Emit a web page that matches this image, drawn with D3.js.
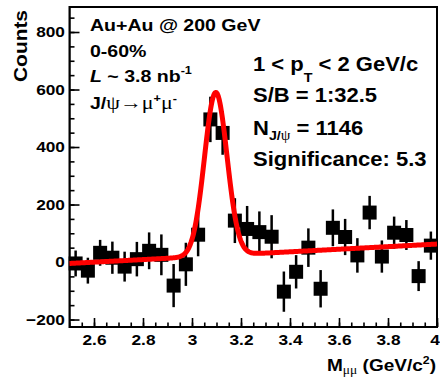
<!DOCTYPE html>
<html>
<head>
<meta charset="utf-8">
<script src="https://cdn.jsdelivr.net/npm/d3@7"></script>
<style>
body { margin: 0; background: #fff; }
text { font-family: "Liberation Sans", Arial, Helvetica, sans-serif; font-weight: bold; fill: #000; }
.sym { font-family: "Liberation Serif", "DejaVu Serif", serif; font-weight: normal; }
</style>
</head>
<body>
<script>
"use strict";

var width = 440,
    height = 377;

// dimuon invariant mass bins (centre, GeV/c^2), 0.05 wide
let massBins = [2.525, 2.575, 2.625, 2.675, 2.725, 2.775, 2.825, 2.875, 2.925, 2.975,
                3.025, 3.075, 3.125, 3.175, 3.225, 3.275, 3.325, 3.375, 3.425, 3.475,
                3.525, 3.575, 3.625, 3.675, 3.725, 3.775, 3.825, 3.875, 3.925, 3.975];
let counts = [-5, -30, 32, 15, -16, 10, 39, 25, -82, -8,
              95, 496, 449, 144, 115, 104, 88, -103, -34, 50,
              -93, 119, 87, 23, 172, 19, 102, 94, -49, 57];
let errors = [45, 45, 45, 56, 52, 60, 64, 71, 75, 75,
              75, 79, 76, 78, 80, 72, 75, 70, 58, 67,
              65, 64, 63, 60, 58, 56, 56, 52, 52, 49];

let xTicks = [2.6, 2.8, 3, 3.2, 3.4, 3.6, 3.8, 4];
let xTickLabels = ["2.6", "2.8", "3", "3.2", "3.4", "3.6", "3.8", "4"];
let yTicks = [-200, 0, 200, 400, 600, 800];

// fit = linear background + gaussian peak
let fitBackground = [-5, 45];          // value at 2.5, slope per GeV
let fitPeak = [568, 3.097, 0.046];     // amplitude, mean, sigma

let svg = "";
let x = "";
let y = "";

window.onload = function () {
    svg = d3.select("body")
        .append("svg")
        .attr("width", width)
        .attr("height", height);

    svg.append("rect").attr("width", width).attr("height", height).attr("fill", "#fff");

    x = d3.scaleLinear().domain([2.5, 4]).range([69.5, 437]);
    y = d3.scaleLinear().domain([-226, 887]).range([327, 7]);

    makeAxes();
    makePoints();
    makeFit();
    makeLabels();
}

function makeAxes() {
    // minor ticks
    svg.append("g")
        .attr("transform", "translate(0,327)")
        .call(d3.axisBottom(x).tickValues(d3.range(51, 81).map(k => k / 20)).tickSize(-4.5).tickFormat(""));
    svg.append("g")
        .attr("transform", "translate(69.5,0)")
        .call(d3.axisLeft(y).tickValues(d3.range(-4, 18).map(k => k * 50)).tickSize(-5).tickFormat(""));

    // major ticks + labels
    let xa = svg.append("g")
        .attr("transform", "translate(0,327)")
        .call(d3.axisBottom(x).tickValues(xTicks).tickSize(-9).tickPadding(7.5)
            .tickFormat((d, i) => xTickLabels[i]));
    let ya = svg.append("g")
        .attr("transform", "translate(69.5,0)")
        .call(d3.axisLeft(y).tickValues(yTicks).tickSize(-10).tickPadding(4));

    [xa, ya].forEach(function (a) {
        a.selectAll(".domain").remove();
        a.selectAll("text")
            .attr("font-size", 15)
            .attr("font-family", null)
            .attr("transform", "scale(1.15,1)");
    });
    // last x label sits on the right border, keep it inside the page
    xa.selectAll("text").filter(d => d === 4).attr("text-anchor", "end").attr("x", 2);
    svg.selectAll(".tick line").attr("stroke", "#000").attr("stroke-width", 1.6);

    svg.append("rect")
        .attr("x", x(2.5)).attr("y", y(887))
        .attr("width", x(4) - x(2.5)).attr("height", y(-226) - y(887))
        .attr("fill", "none").attr("stroke", "#000").attr("stroke-width", 2);
}

function makePoints() {
    let pts = svg.append("g").attr("id", "points");
    pts.selectAll("line")
        .data(massBins)
        .enter()
        .append("line")
        .attr("x1", d => x(d)).attr("x2", d => x(d))
        .attr("y1", (d, i) => y(counts[i] + errors[i]))
        .attr("y2", (d, i) => y(counts[i] - errors[i]))
        .attr("stroke", "#000").attr("stroke-width", 2.5);
    pts.selectAll("rect")
        .data(massBins)
        .enter()
        .append("rect")
        .attr("x", d => x(d) - 7).attr("y", (d, i) => y(counts[i]) - 7)
        .attr("width", 14).attr("height", 14)
        .attr("fill", "#000");
}

function fitValue(m) {
    let g = (m - fitPeak[1]) / fitPeak[2];
    return fitBackground[0] + fitBackground[1] * (m - 2.5) + fitPeak[0] * Math.exp(-0.5 * g * g);
}

function makeFit() {
    let line = d3.line().x(d => x(d)).y(d => y(fitValue(d)));
    svg.append("path")
        .datum(d3.range(0, 751).map(k => 2.5 + k * 0.002))
        .attr("d", line)
        .attr("fill", "none")
        .attr("stroke", "#ff0000")
        .attr("stroke-width", 5)
        .attr("stroke-linejoin", "round");
}

function label(px, py, size, sx, anchor) {
    return svg.append("g")
        .attr("transform", "translate(" + px + "," + py + ") scale(" + sx + ",1)")
        .append("text")
        .attr("font-size", size)
        .attr("text-anchor", anchor || "start");
}

function makeLabels() {
    let t;
    // axis titles
    svg.append("g")
        .attr("transform", "translate(27,10) rotate(-90) scale(1.1,1)")
        .append("text").attr("font-size", 19).attr("text-anchor", "end").text("Counts");

    t = label(436, 371, 17, 1.12, "end");
    t.append("tspan").text("M");
    t.append("tspan").attr("class", "sym").attr("font-size", 12).attr("dy", 3).text("μμ");
    t.append("tspan").attr("dy", -3).text(" (GeV/c");
    t.append("tspan").attr("font-size", 11).attr("dy", -7).text("2");
    t.append("tspan").attr("dy", 7).text(")");

    // left block
    label(90, 31, 17, 1.15).text("Au+Au @ 200 GeV");
    label(90, 57, 17, 1.15).text("0-60%");
    t = label(90, 82, 17, 1.15);
    t.append("tspan").attr("font-style", "italic").text("L");
    t.append("tspan").text(" ~ 3.8 nb");
    t.append("tspan").attr("font-size", 11).attr("dy", -8).text("-1");
    t = label(90, 109, 17, 1.15);
    t.append("tspan").text("J/");
    t.append("tspan").attr("class", "sym").attr("font-size", 19).text("ψ→μ");
    t.append("tspan").attr("font-size", 11).attr("dy", -7).text("+");
    t.append("tspan").attr("class", "sym").attr("font-size", 19).attr("dy", 7).text("μ");
    t.append("tspan").attr("font-size", 11).attr("dy", -7).text("-");

    // right block
    t = label(253, 70.5, 20, 1.1);
    t.append("tspan").text("1 < p");
    t.append("tspan").attr("font-size", 13).attr("dy", 11).text("T");
    t.append("tspan").attr("dy", -11).text(" < 2 GeV/c");
    label(253, 102, 20, 1.1).text("S/B = 1:32.5");
    t = label(253, 135, 20, 1.1);
    t.append("tspan").text("N");
    t.append("tspan").attr("font-size", 13).attr("dy", 5).text("J/");
    t.append("tspan").attr("class", "sym").attr("font-size", 14).text("ψ");
    t.append("tspan").attr("dy", -5).text(" = 1146");
    label(253, 166, 20, 1.1).text("Significance: 5.3");
}
</script>
</body>
</html>
